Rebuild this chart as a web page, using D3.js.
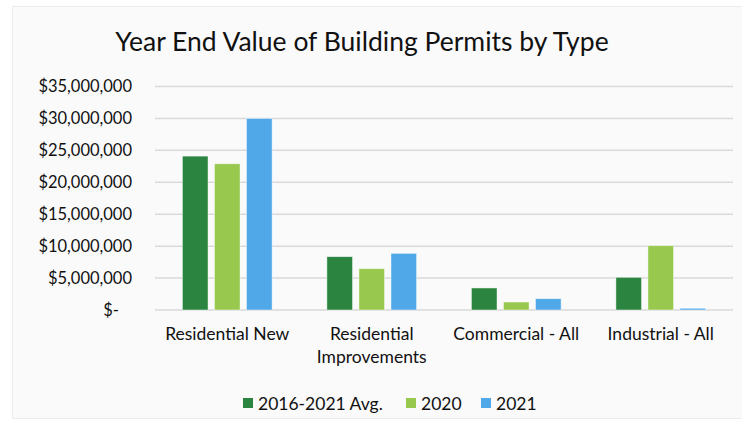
<!DOCTYPE html>
<html>
<head>
<meta charset="utf-8">
<script src="https://cdn.jsdelivr.net/npm/d3@7"></script>
<style>
  body { margin: 0; background: #fff; }
  text { font-family: Lato, "Open Sans", sans-serif; fill: #111; }
</style>
</head>
<body>
<svg id="chart"></svg>
<script>
let categories = ["Residential New", "Residential Improvements", "Commercial - All", "Industrial - All"];
let seriesNames = ["2016-2021 Avg.", "2020", "2021"];
let avgValues = [24100000, 8350000, 3450000, 5120000];
let values2020 = [22900000, 6470000, 1250000, 10070000];
let values2021 = [30000000, 8870000, 1770000, 270000];
let yTicks = [0, 5000000, 10000000, 15000000, 20000000, 25000000, 30000000, 35000000];
let colors = ["#2b8540", "#99c84e", "#50a8e8"];

let width = 742, height = 425,
    plotLeft = 155, plotRight = 733, plotTop = 86.5, plotBottom = 310,
    svg = d3.select("#chart").attr("width", width).attr("height", height);

// chart area background + faint border
svg.append("rect")
    .attr("x", 12.5).attr("y", 6.5)
    .attr("width", 740).attr("height", 412)
    .attr("fill", "#fafafa")
    .attr("stroke", "#ececec");

svg.append("text")
    .attr("x", 362).attr("y", 51)
    .attr("text-anchor", "middle")
    .style("font-size", "26.5px")
    .text("Year End Value of Building Permits by Type");

let xScale = d3.scaleBand(categories, [plotLeft, plotRight]).paddingInner(0).paddingOuter(0);
let inner = d3.scaleBand(d3.range(seriesNames.length), [0, 89.7]).paddingInner(0.2);
let yScale = d3.scaleLinear([0, 35000000], [plotBottom, plotTop]);

let fmt = d3.format(",");
let yAxis = d3.axisLeft(yScale).tickValues(yTicks).tickSize(0).tickPadding(0)
    .tickFormat(function(d){ return d == 0 ? "$-" : "$" + fmt(d); });

// gridlines
svg.append("g").selectAll("line")
    .data(yTicks)
    .enter()
    .append("line")
    .attr("x1", plotLeft).attr("x2", plotRight)
    .attr("y1", function(d){ return yScale(d); })
    .attr("y2", function(d){ return yScale(d); })
    .attr("stroke", "#d9d9d9")
    .attr("stroke-width", 1.5);

let ya = svg.append("g")
    .attr("transform", "translate(132,0)")
    .call(yAxis);
ya.select(".domain").remove();
ya.selectAll("text")
    .style("font-size", "16.5px")
    .style("font-family", "Lato, sans-serif")
    .attr("fill", "#111")
    .attr("dx", function(d){ return d == 0 ? "-13" : "0"; });

let series = [avgValues, values2020, values2021];
let groupOffset = (xScale.bandwidth() - 89.7) / 2;

series.forEach(function(vals, s){
    svg.append("g").selectAll("rect")
        .data(vals)
        .enter()
        .append("rect")
        .attr("x", function(d, i){ return xScale(categories[i]) + groupOffset + inner(s); })
        .attr("width", inner.bandwidth())
        .attr("y", function(d){ return yScale(d); })
        .attr("height", function(d){ return plotBottom - yScale(d); })
        .attr("fill", colors[s])
        .attr("stroke", "#ffffff")
        .attr("stroke-opacity", 0.6)
        .attr("stroke-width", 0.75);
});

// category labels
let xa = svg.append("g");
categories.forEach(function(c){
    let lines = c == "Residential Improvements" ? ["Residential", "Improvements"] : [c];
    let t = xa.append("text")
        .attr("x", xScale(c) + xScale.bandwidth() / 2)
        .attr("y", 340)
        .attr("text-anchor", "middle")
        .style("font-size", "17.5px");
    lines.forEach(function(l, i){
        t.append("tspan")
            .attr("x", xScale(c) + xScale.bandwidth() / 2)
            .attr("dy", i == 0 ? 0 : 23)
            .text(l);
    });
});

// legend
let legendX = [243, 406, 481];
let lg = svg.append("g");
seriesNames.forEach(function(n, i){
    lg.append("rect")
        .attr("x", legendX[i]).attr("y", 398)
        .attr("width", 10).attr("height", 10)
        .attr("fill", colors[i]);
    lg.append("text")
        .attr("x", legendX[i] + 15).attr("y", 410)
        .style("font-size", "17.5px")
        .text(n);
});
</script>
</body>
</html>
